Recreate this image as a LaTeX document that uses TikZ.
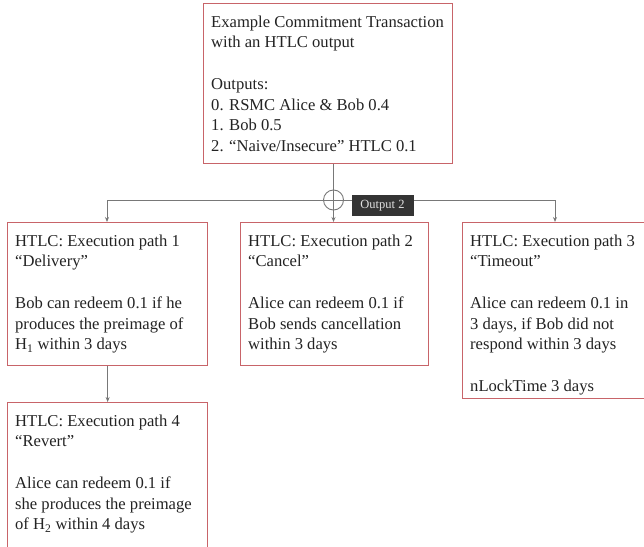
\documentclass[tikz,border=0pt]{standalone}
\usepackage{fontspec}
\setmainfont{Liberation Serif}
\usetikzlibrary{arrows.meta,calc}
\definecolor{boxred}{RGB}{200,100,105}
\definecolor{linegray}{RGB}{120,120,120}
\definecolor{tagbg}{RGB}{52,52,52}
\definecolor{txtcol}{RGB}{35,35,35}
\tikzset{
  boxnode/.style={draw=boxred, line width=1.3pt, fill=white, rectangle, anchor=north west, inner sep=0pt},
  txt/.style={anchor=north west, align=left, inner sep=0pt, font=\fontsize{16.6}{20.7}\selectfont, text=txtcol},
  conn/.style={draw=linegray, line width=0.9pt},
  arr/.style={conn, -{Stealth[length=5pt,width=4pt]}},
  tag/.style={fill=tagbg, text=white!88!black, font=\fontsize{12.5}{14}\selectfont, minimum width=62pt, minimum height=21pt, inner sep=0pt},
}
\begin{document}
\begin{tikzpicture}[x=1pt,y=-1pt]
\useasboundingbox (0,0) rectangle (644,546);
% boxes
\node[boxnode, minimum width=249pt, minimum height=160pt] (top) at (203,3) {};
\node[boxnode, minimum width=200pt, minimum height=143pt] (b1) at (7,222) {};
\node[boxnode, minimum width=188pt, minimum height=143pt] (b2) at (240,222) {};
\node[boxnode, minimum width=260pt, minimum height=176pt] (b3) at (462,222) {};
\node[boxnode, minimum width=200pt, minimum height=170pt] (b4) at (7,402) {};
% texts
\node[txt] (ttop) at ($(top.north west)+(8,12.5)$) {Example Commitment Transaction\\with an HTLC output\\[20.7pt]Outputs:\\0. RSMC Alice \& Bob 0.4\\1. Bob 0.5\\2. “Naive/Insecure” HTLC 0.1};
\node[txt] (t1) at ($(b1.north west)+(8,12.5)$) {HTLC: Execution path 1\\“Delivery”\\[20.7pt]Bob can redeem 0.1 if he\\produces the preimage of\\H\textsubscript{1} within 3 days};
\node[txt] (t2) at ($(b2.north west)+(8,12.5)$) {HTLC: Execution path 2\\“Cancel”\\[20.7pt]Alice can redeem 0.1 if\\Bob sends cancellation\\within 3 days};
\node[txt] (t3) at ($(b3.north west)+(8,12.5)$) {HTLC: Execution path 3\\“Timeout”\\[20.7pt]Alice can redeem 0.1 in\\3 days, if Bob did not\\respond within 3 days\\[20.7pt]nLockTime 3 days};
\node[txt] (t4) at ($(b4.north west)+(8,12.5)$) {HTLC: Execution path 4\\“Revert”\\[20.7pt]Alice can redeem 0.1 if\\she produces the preimage\\of H\textsubscript{2} within 4 days};
% hub
\node[circle, draw=linegray, line width=0.9pt, minimum size=20pt, inner sep=0pt] (hub) at (333.5,200) {};
\coordinate (hl) at (107,200);
\coordinate (hr) at (555,200);
% connectors
\draw[conn] (hub |- top.south) -- (hub.center);
\draw[conn] (hl) -- (hr);
\draw[arr] (hub.center) -- (hub |- b2.north);
\draw[arr] (hl) -- (hl |- b1.north);
\draw[arr] (hr) -- (hr |- b3.north);
\draw[arr] (b1.south) -- (b1.south |- b4.north);
\node[tag] (out2) at (382.5,205.5) {Output 2};
\end{tikzpicture}
\end{document}
